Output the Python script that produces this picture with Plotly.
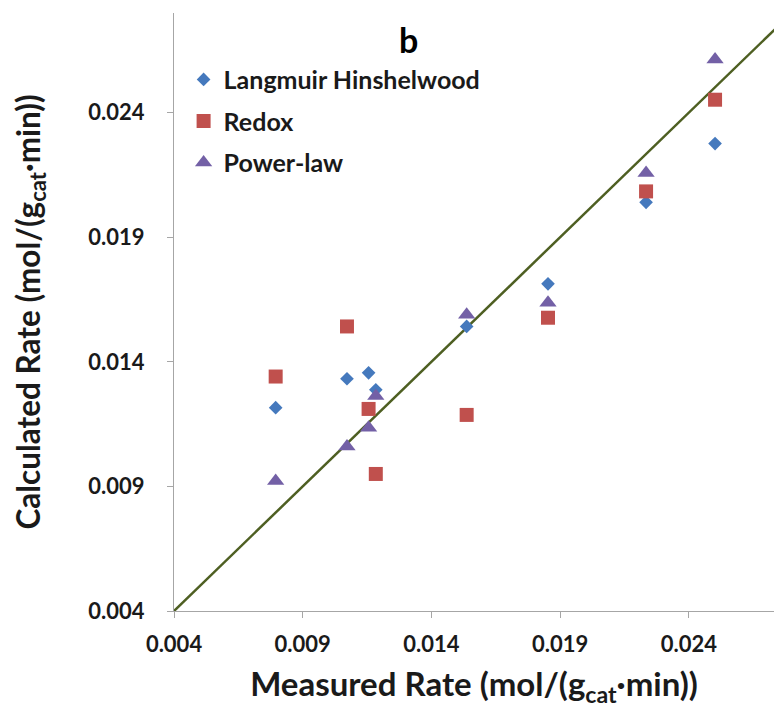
import plotly.graph_objects as go

measured = [0.00795, 0.01072, 0.01156, 0.01184, 0.01537, 0.01853, 0.02234, 0.02502]
lh_calc = [0.01216, 0.01332, 0.01356, 0.01288, 0.01542, 0.01713, 0.02040, 0.02276]
redox_calc = [0.01341, 0.01542, 0.01211, 0.00950, 0.01187, 0.01577, 0.02084, 0.02452]
power_calc = [0.00922, 0.01060, 0.01135, 0.01263, 0.01589, 0.01637, 0.02158, 0.02613]
parity = [0.004, 0.028]
tick_vals = [0.004, 0.009, 0.014, 0.019, 0.024]
tick_text = ["0.004", "0.009", "0.014", "0.019", "0.024"]

FONT = "Lato"

fig = go.Figure()
fig.add_trace(go.Scatter(x=parity, y=parity, mode="lines", showlegend=False,
                         line=dict(color="#4E5F22", width=2.5), hoverinfo="skip"))
fig.add_trace(go.Scatter(x=measured, y=lh_calc, mode="markers", name="Langmuir Hinshelwood",
                         legendgroup="a",
                         marker=dict(symbol="diamond", size=10.5, color="#4579BD")))
fig.add_trace(go.Scatter(x=measured, y=redox_calc, mode="markers", name="Redox",
                         legendgroup="b",
                         marker=dict(symbol="square", size=14, color="#C0504D")))
fig.add_trace(go.Scatter(x=measured, y=power_calc, mode="markers", name="Power-law",
                         legendgroup="c",
                         marker=dict(symbol="triangle-up", size=15, color="#7360A6")))

axis_common = dict(showgrid=False, zeroline=False, showline=True, linecolor="#A6A6A6",
                   linewidth=1, ticks="outside", ticklen=6, tickcolor="#A6A6A6",
                   tickvals=tick_vals, ticktext=tick_text,
                   tickfont=dict(family=FONT, size=22, color="#1a1a1a", weight="bold"))

fig.update_layout(
    width=774, height=711,
    margin=dict(l=174, r=0, t=13, b=100),
    plot_bgcolor="white", paper_bgcolor="white",
    font=dict(family=FONT),
    xaxis=dict(range=[0.004, 0.02731], **axis_common,
               ticklabelstandoff=8,
               title=dict(text="Measured Rate (mol/(g<sub>cat</sub>·min))",
                          font=dict(family=FONT, size=33, color="#1a1a1a", weight="bold"),
                          standoff=16)),
    yaxis=dict(range=[0.004, 0.028], **axis_common,
               ticklabelstandoff=18,
               title=dict(text="Calculated Rate (mol/(g<sub>cat</sub>·min))",
                          font=dict(family=FONT, size=31.5, color="#1a1a1a", weight="bold"),
                          standoff=38)),
    legend=dict(x=0.016, y=0.927, xanchor="left", yanchor="top",
                bgcolor="rgba(0,0,0,0)", tracegroupgap=6,
                font=dict(family=FONT, size=25, color="#1a1a1a", weight="bold")),
    annotations=[dict(text="b", x=(408 - 174) / 600, y=(611 - 40) / 598,
                      xref="paper", yref="paper", showarrow=False,
                      xanchor="center", yanchor="middle",
                      font=dict(family=FONT, size=34, color="black", weight="bold"))],
)

fig.write_html("out.html")
